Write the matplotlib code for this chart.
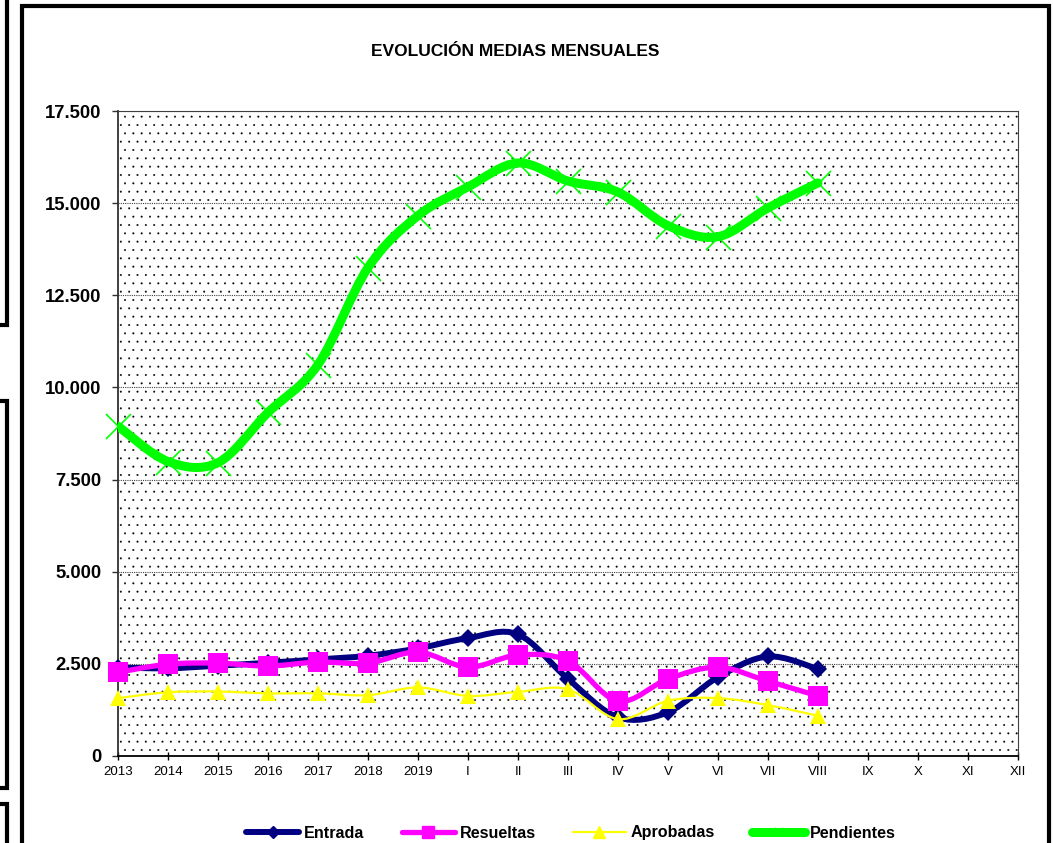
import numpy as np
import matplotlib
matplotlib.use("Agg")
import matplotlib.pyplot as plt
from matplotlib.path import Path
from matplotlib.patches import PathPatch, Rectangle
from matplotlib.lines import Line2D

# ---------------- data ----------------
categories = ["2013", "2014", "2015", "2016", "2017", "2018", "2019",
              "I", "II", "III", "IV", "V", "VI", "VII", "VIII", "IX", "X", "XI", "XII"]
entrada = [2400, 2380, 2450, 2530, 2620, 2720, 2920, 3200, 3300, 2090, 1050, 1190, 2140, 2700, 2360]
resueltas = [2270, 2490, 2520, 2440, 2550, 2520, 2820, 2410, 2740, 2580, 1490, 2090, 2410, 2030, 1630]
aprobadas = [1570, 1730, 1750, 1700, 1700, 1650, 1860, 1630, 1740, 1810, 1000, 1500, 1570, 1380, 1090]
pendientes = [8950, 7990, 7960, 9320, 10620, 13250, 14660, 15440, 16090, 15600, 15300, 14390, 14090, 14870, 15550]
series_names = ["Entrada", "Resueltas", "Aprobadas", "Pendientes"]
y_ticks = [0, 2500, 5000, 7500, 10000, 12500, 15000, 17500]
y_tick_labels = ["0", "2.500", "5.000", "7.500", "10.000", "12.500", "15.000", "17.500"]
title = "EVOLUCIÓN MEDIAS MENSUALES"

plt.rcParams["hatch.linewidth"] = 0.2

# ---------------- figure ----------------
W, H = 1053, 843
fig = plt.figure(figsize=(W / 100, H / 100), dpi=100)
fig.patch.set_facecolor("white")

ax = fig.add_axes([118 / W, 1 - 756 / H, 900 / W, 645 / H])
ax.set_xlim(0, len(categories) - 1)
ax.set_ylim(0, 17500)

# dotted background
bg = Rectangle((0, 0), 1, 1, transform=ax.transAxes, facecolor="white",
               edgecolor="black", linewidth=0, hatch="..", zorder=0.1)
ax.add_patch(bg)


def smooth_path(xs, ys):
    pts = np.column_stack([xs, ys]).astype(float)
    n = len(pts)
    verts = [pts[0]]
    codes = [Path.MOVETO]
    for i in range(n - 1):
        p0 = pts[i - 1] if i > 0 else pts[i]
        p1 = pts[i]
        p2 = pts[i + 1]
        p3 = pts[i + 2] if i + 2 < n else pts[i + 1]
        c1 = p1 + (p2 - p0) / 6.0
        c2 = p2 - (p3 - p1) / 6.0
        verts += [c1, c2, p2]
        codes += [Path.CURVE4] * 3
    return Path(verts, codes)


styles = [
    dict(data=entrada, color="#000080", lw=4.3, marker="D", ms=9.5, mew=0, z=3, lms=6),
    dict(data=resueltas, color="#FF00FF", lw=3.8, marker="s", ms=14, mew=0, z=4, lms=9),
    dict(data=aprobadas, color="#FFFF00", lw=1.6, marker="^", ms=12, mew=0, z=5, lms=8),
    dict(data=pendientes, color="#00FF00", lw=6.5, marker="x", ms=18, mew=1.2, z=6, lms=6),
]

handles = []
for name, st in zip(series_names, styles):
    xs = np.arange(len(st["data"]))
    p = smooth_path(xs, st["data"])
    patch = PathPatch(p, fill=False, edgecolor=st["color"], linewidth=st["lw"],
                      capstyle="round", joinstyle="round", zorder=st["z"])
    ax.add_patch(patch)
    ax.plot(xs, st["data"], linestyle="none", marker=st["marker"], markersize=st["ms"],
            color=st["color"], markeredgecolor=st["color"], markeredgewidth=st["mew"],
            zorder=st["z"] + 0.5, clip_on=False)
    handles.append(Line2D([], [], color=st["color"], lw=st["lw"], marker=st["marker"],
                          markersize=st["lms"], markeredgewidth=max(st["mew"], 1.0),
                          markeredgecolor=st["color"], solid_capstyle="round"))

# axes styling
ax.set_axisbelow(True)
ax.yaxis.grid(True, linestyle=(0, (1.0, 1.0)), color="#404040", linewidth=0.8)
ax.xaxis.grid(False)
ax.set_yticks(y_ticks)
ax.set_yticklabels(y_tick_labels, fontfamily="Liberation Sans", fontweight="bold", fontsize=13.3)
ax.set_xticks(np.arange(len(categories)))
ax.set_xticklabels(categories, fontfamily="Liberation Sans", fontsize=9.5)
ax.tick_params(axis="y", direction="out", length=4, width=1, pad=8, color="#303030")
ax.tick_params(axis="x", direction="inout", length=6, width=1, pad=4, color="black")
for s in ["top", "right"]:
    ax.spines[s].set_linestyle((0, (1.0, 1.0)))
    ax.spines[s].set_color("#404040")
    ax.spines[s].set_linewidth(0.8)
ax.spines["left"].set_color("#303030")
ax.spines["left"].set_linewidth(1.3)
ax.spines["bottom"].set_color("black")
ax.spines["bottom"].set_linewidth(1.3)

# title
fig.text(515 / W, 1 - 51 / H, title, ha="center", va="center",
         fontfamily=["Liberation Sans Narrow", "Liberation Sans"], fontweight="bold", fontsize=12.5)

# legend
leg = fig.legend(handles, series_names, loc="center", ncol=4,
                 bbox_to_anchor=(571 / W, 1 - 833 / H), frameon=False,
                 prop=dict(family="Liberation Sans", weight="bold", size=11.6),
                 handlelength=3.3, handletextpad=0.3, columnspacing=2.3)

# frames (chart borders)
def frame(x0, y0, x1, y1, lw=3):
    r = Rectangle((x0 / W, 1 - y1 / H), (x1 - x0) / W, (y1 - y0) / H,
                  transform=fig.transFigure, fill=False, edgecolor="black",
                  linewidth=lw, clip_on=False, zorder=10)
    fig.add_artist(r)

frame(21.5, 6.5, 1048.5, 900)
frame(-20, -20, 7, 325)
frame(-20, 401, 7, 788)
frame(-20, 804, 7, 900)

fig.savefig("out.png", dpi=100)
